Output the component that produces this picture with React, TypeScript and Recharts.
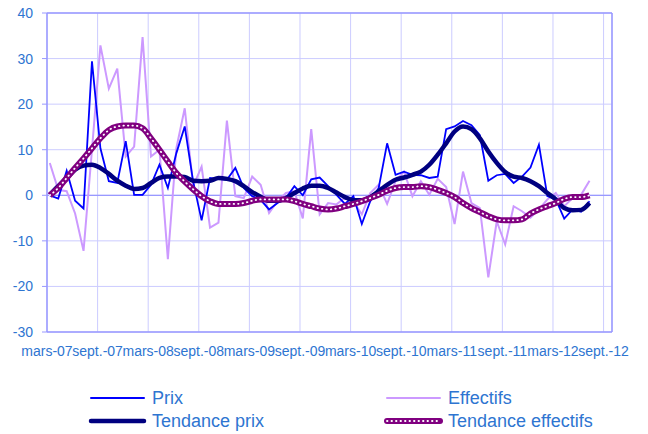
import React from 'react';
import { LineChart, Line, XAxis, YAxis, CartesianGrid, ReferenceLine } from 'recharts';

// one label every 6 months, first month of the series is mars-07
const monthLabels = [
  'mars-07', 'sept.-07', 'mars-08', 'sept.-08', 'mars-09', 'sept.-09',
  'mars-10', 'sept.-10', 'mars-11', 'sept.-11', 'mars-12', 'sept.-12',
];
const yTicks = [-30, -20, -10, 0, 10, 20, 30, 40];

// monthly values, mars-07 .. juil.-12
const prix = [
  0.0, -0.7, 5.4, -1.2, -2.9, 29.4, 10.3, 3.1, 2.7, 11.9, 0.1, 0.1, 2.3, 6.7, 1.6, 9.2,
  15.1, 3.0, -5.5, 3.8, 3.6, 3.4, 6.0, 1.6, -0.2, -1.0, -3.1, -1.7, -0.6, 2.0, 0.0, 3.5,
  3.9, 2.0, 0.1, -1.9, -0.2, -6.3, -1.3, 1.6, 11.4, 4.5, 5.2, 4.5, 4.4, 3.8, 4.1, 14.5,
  15.1, 16.3, 15.4, 13.2, 3.2, 4.4, 4.7, 2.7, 4.1, 6.1, 11.1, -0.2, -0.9, -5.1, -3.1, -3.6,
  -1.3,
];
const effectifs = [
  7.1, 1.2, 0.9, -4.0, -12.2, 10.0, 32.9, 23.4, 27.8, 8.5, 10.7, 34.7, 8.5, 10.0, -14.0, 10.3,
  19.1, 2.0, 6.3, -7.1, -6.0, 16.4, -0.2, -0.6, 4.1, 2.3, -3.9, -1.3, 0.5, 0.9, -5.1, 14.5,
  -4.2, -1.7, -2.0, -0.5, -1.3, -4.2, 0.5, 2.3, -1.9, 3.1, 5.2, -0.2, 3.1, 0.1, 3.6, 1.8,
  -6.3, 5.2, -1.7, -2.8, -18.0, -5.7, -10.8, -2.4, -3.5, -4.9, -3.1, -0.9, 0.5, -2.4, -0.6, 0.1,
  3.2,
];
const tendancePrix = [
  0.1, 2.0, 3.8, 5.6, 6.5, 6.7, 6.0, 4.7, 3.2, 2.1, 1.4, 1.6, 2.7, 3.8, 4.1, 4.1,
  4.0, 3.2, 3.1, 3.2, 3.8, 3.6, 3.1, 2.0, 0.7, -0.3, -1.2, -1.2, -0.6, 0.5, 1.5, 2.1,
  2.1, 1.6, 0.6, -0.4, -1.1, -1.1, -0.4, 0.9, 2.3, 3.4, 3.9, 4.5, 5.2, 6.7, 8.9, 11.4,
  14.0, 15.1, 14.5, 12.5, 9.6, 7.1, 5.1, 4.1, 3.8, 3.1, 2.0, 0.5, -0.9, -2.8, -3.3, -3.2,
  -1.7,
];
const tendanceEffectifs = [
  0.0, 1.6, 3.8, 6.0, 8.1, 10.3, 12.5, 14.3, 15.1, 15.3, 15.3, 14.7, 12.5, 10.0, 7.4, 4.9,
  3.0, 1.3, -0.2, -1.3, -1.9, -1.9, -1.9, -1.7, -1.2, -0.9, -0.9, -0.9, -0.9, -1.3, -1.9, -2.4,
  -2.9, -3.1, -2.9, -2.4, -1.9, -1.3, -0.6, 0.1, 1.0, 1.6, 1.8, 1.8, 2.0, 1.8, 1.2, 0.5,
  -0.4, -1.7, -2.8, -3.7, -4.6, -5.3, -5.5, -5.5, -5.3, -4.0, -3.1, -2.4, -1.7, -0.8, -0.4, -0.4,
  0.0,
];

// observations sit a third of a month after the start of the month
const data = prix.map((p, i) => ({
  t: i + 1 / 3,
  prix: p,
  effectifs: effectifs[i],
  tendancePrix: tendancePrix[i],
  tendanceEffectifs: tendanceEffectifs[i],
}));

const FONT = '"Liberation Sans", Arial, sans-serif';
const TEXT = '#2E75D1';
const GRID = '#CCCCFF';
const AXIS = '#9999FF';

const legendItems = [
  { name: 'Prix', color: '#0000FF', width: 2, x: 91, row: 0, dotted: false },
  { name: 'Effectifs', color: '#CC99FF', width: 2, x: 387, row: 0, dotted: false },
  { name: 'Tendance prix', color: '#000080', width: 4.5, x: 91, row: 1, dotted: false },
  { name: 'Tendance effectifs', color: '#800080', width: 6, x: 387, row: 1, dotted: true },
];

const ChartLegend = () => (
  <svg width={648} height={50} style={{ position: 'absolute', left: 0, top: 383 }}>
    {legendItems.map((it) => {
      const cy = 15 + it.row * 23;
      return (
        <g key={it.name}>
          <line x1={it.x} x2={it.x + 53} y1={cy} y2={cy} stroke={it.color} strokeWidth={it.width} strokeLinecap="round" />
          {it.dotted && (
            <line x1={it.x} x2={it.x + 53} y1={cy} y2={cy} stroke="#fff" strokeWidth={1.8} strokeDasharray="0.5 4" strokeLinecap="round" />
          )}
          <text x={it.x + 61} y={cy + 6.4} fontSize={18} fill={TEXT} fontFamily={FONT}>
            {it.name}
          </text>
        </g>
      );
    })}
  </svg>
);

export default function App() {
  return (
    <div style={{ position: 'absolute', left: 0, top: 0, width: 648, height: 434, background: '#fff' }}>
      <LineChart width={648} height={434} data={data} margin={{ top: 13, right: 36, bottom: 82, left: 0 }}>
        <CartesianGrid stroke={GRID} strokeWidth={1} />
        <XAxis
          dataKey="t"
          type="number"
          domain={[0, 67]}
          ticks={monthLabels.map((_, k) => k * 6)}
          tickFormatter={(v: number) => monthLabels[Math.round(v / 6)]}
          interval={0}
          height={20}
          tickLine={false}
          tickSize={0}
          tickMargin={14}
          axisLine={{ stroke: AXIS, strokeWidth: 1.5 }}
          tick={{ fontSize: 14, fill: TEXT, fontFamily: FONT }}
        />
        <YAxis
          type="number"
          domain={[-30, 40]}
          ticks={yTicks}
          width={47}
          tickSize={5}
          tickMargin={9}
          tickLine={{ stroke: AXIS }}
          axisLine={{ stroke: AXIS, strokeWidth: 1.5 }}
          tick={{ fontSize: 14, fill: TEXT, fontFamily: FONT }}
        />
        <ReferenceLine y={0} stroke={AXIS} strokeWidth={1.2} />
        <ReferenceLine y={40} stroke={AXIS} strokeWidth={1.5} />
        <ReferenceLine x={67} stroke={AXIS} strokeWidth={1.5} />
        <Line dataKey="effectifs" type="linear" stroke="#CC99FF" strokeWidth={2} dot={false} isAnimationActive={false} />
        <Line dataKey="prix" type="linear" stroke="#0000FF" strokeWidth={1.8} dot={false} isAnimationActive={false} />
        <Line dataKey="tendancePrix" type="monotone" stroke="#000080" strokeWidth={4.5} dot={false} isAnimationActive={false} />
        <Line dataKey="tendanceEffectifs" type="monotone" stroke="#800080" strokeWidth={6} dot={false} isAnimationActive={false} />
        <Line
          dataKey="tendanceEffectifs"
          type="monotone"
          stroke="#FFFFFF"
          strokeWidth={1.8}
          strokeDasharray="0.5 4"
          strokeLinecap="round"
          dot={false}
          isAnimationActive={false}
        />
      </LineChart>
      <ChartLegend />
    </div>
  );
}
